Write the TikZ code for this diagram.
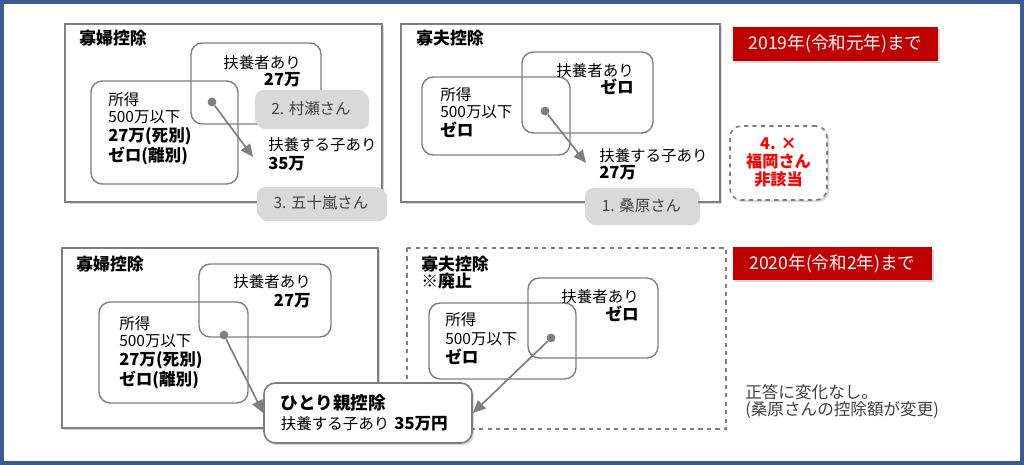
\documentclass[tikz,border=0pt]{standalone}
\usepackage{fontspec}
\setmainfont{Noto Sans CJK JP}
\usetikzlibrary{shadows,arrows.meta}

\definecolor{frameblue}{HTML}{3B5B8C}
\definecolor{boxgray}{HTML}{7F7F7F}
\definecolor{lblgray}{HTML}{D9D9D9}
\definecolor{txtgray}{HTML}{404040}
\definecolor{bannerred}{HTML}{C00000}
\newcommand{\bx}[1]{{\fontsize{11.8}{14}\selectfont\bfseries #1}}
\newcommand{\ttl}[1]{{\fontsize{12}{14}\selectfont\bfseries #1}}

\begin{document}
\begin{tikzpicture}[x=0.025cm,y=-0.025cm,
  font=\fontsize{11}{14}\selectfont,
  shad/.style={drop shadow={shadow xshift=1.5pt,shadow yshift=-1.5pt,opacity=0.3}},
  panel/.style={draw=boxgray,line width=1.2pt,fill=white,shad},
  venn/.style={draw=boxgray,line width=1pt,rounded corners=8pt},
  txt/.style={inner sep=0pt,align=left},
  dot/.style={circle,fill=boxgray,inner sep=0pt,minimum size=0.22cm},
  link/.style={draw=boxgray,line width=1.2pt,-{Triangle[length=9pt,width=8pt]}},
  namebox/.style={rounded corners=6pt,fill=lblgray,text=txtgray,shad},
  banner/.style={fill=bannerred,text=white,shad,font=\fontsize{12.5}{14}\selectfont}
]
  \useasboundingbox (0,0) rectangle (1024,465);
  \draw[frameblue,line width=3pt] (1.5,1.5) rectangle (1022.5,463.5);

  % 2019: 寡婦控除
  \draw[panel] (65,24) rectangle (382,202);
  \node[txt,anchor=north west] (t1) at (79,30) {\ttl{寡婦控除}};
  \draw[venn] (191,43) rectangle (321,124);
  \draw[venn] (91,81) rectangle (238,184);
  \node[txt,anchor=north east,align=right] (a1) at (301,55) {扶養者あり\\[-2pt]\bx{27万}};
  \node[txt,anchor=north west] (b1) at (108,92) {所得\\[-2pt]500万以下\\\bx{27万(死別)}\\\bx{ゼロ(離別)}};
  \node[dot] (d1) at (212,102) {};
  \coordinate (e1) at (253,157);
  \draw[link] (d1) -- (e1);
  \node[txt,anchor=north west] (c1) at (268,137) {扶養する子あり\\\bx{35万}};
  \node[namebox,minimum width=2.8cm,minimum height=0.925cm] (p2) at (311,108.5) {2. 村瀬さん};
  \node[namebox,minimum width=3.2cm,minimum height=0.8cm] (p3) at (321,203) {3. 五十嵐さん};

  % 2019: 寡夫控除
  \draw[panel] (401,24) rectangle (720,202);
  \node[txt,anchor=north west] (t2) at (416,30) {\ttl{寡夫控除}};
  \draw[venn] (522,52) rectangle (653,133);
  \draw[venn] (422,77) rectangle (570,155);
  \node[txt,anchor=north east,align=right] (a2) at (634,63) {扶養者あり\\[-2pt]\bx{ゼロ}};
  \node[txt,anchor=north west] (b2) at (440,87) {所得\\[-2pt]500万以下\\\bx{ゼロ}};
  \node[dot] (d2) at (545,111) {};
  \coordinate (e2) at (586,163);
  \draw[link] (d2) -- (e2);
  \node[txt,anchor=north west] (c2) at (599,148) {扶養する子あり\\[-2pt]\bx{27万}};
  \node[namebox,minimum width=2.825cm,minimum height=0.875cm] (p1) at (641.5,205.5) {1. 桑原さん};

  \node[banner,minimum width=5.125cm,minimum height=0.85cm] (y1) at (835.5,44) {2019年(令和元年)まで};
  \node[draw=boxgray,dashed,line width=1.2pt,rounded corners=8pt,fill=white,shad,
        minimum width=2.425cm,minimum height=1.85cm,align=center,text=red,
        font=\fontsize{11.5}{12.8}\selectfont\bfseries] (p4) at (778.5,163) {4. ×\\福岡さん\\非該当};

  % 2020: 寡婦控除
  \draw[panel] (62,248) rectangle (378,428);
  \node[txt,anchor=north west] (t3) at (76,256) {\ttl{寡婦控除}};
  \draw[venn] (199,264) rectangle (331,337);
  \draw[venn] (99,302) rectangle (248,403);
  \node[txt,anchor=north east,align=right] (a3) at (311,274) {扶養者あり\\\bx{27万}};
  \node[txt,anchor=north west] (b3) at (119,316) {所得\\[-2pt]500万以下\\\bx{27万(死別)}\\\bx{ゼロ(離別)}};
  \node[dot] (d3) at (224,335) {};

  % 2020: 寡夫控除 (廃止)
  \draw[draw=boxgray,dashed,line width=1.2pt] (407,248) rectangle (726,429);
  \node[txt,anchor=north west] (t4) at (421,256) {\ttl{寡夫控除}\\[-2pt]\ttl{※廃止}};
  \draw[venn] (528,278) rectangle (658,358);
  \draw[venn] (429,303) rectangle (576,379);
  \node[txt,anchor=north east,align=right] (a4) at (639,289) {扶養者あり\\[-1pt]\bx{ゼロ}};
  \node[txt,anchor=north west] (b4) at (445,312) {所得\\500万以下\\[-1pt]\bx{ゼロ}};
  \node[dot] (d4) at (551,338) {};

  \node[draw=boxgray,line width=1.2pt,rounded corners=8pt,fill=white,shad,
        minimum width=5.2cm,minimum height=1.5cm,text width=4.35cm,align=left] (oya) at (368,413)
        {{\fontsize{12.5}{15}\selectfont\bfseries ひとり親控除}\\扶養する子あり \bx{35万円}};
  \draw[link] (d3) -- (oya.west);
  \draw[link] (d4) -- (oya.east);

  \node[banner,minimum width=4.975cm,minimum height=0.825cm] (y2) at (832.5,263.5) {2020年(令和2年)まで};
  \node[txt,anchor=north west,text=txtgray,font=\fontsize{11.8}{14}\selectfont] (n1) at (745,384) {正答に変化なし。\\[-2pt](桑原さんの控除額が変更)};
\end{tikzpicture}
\end{document}
